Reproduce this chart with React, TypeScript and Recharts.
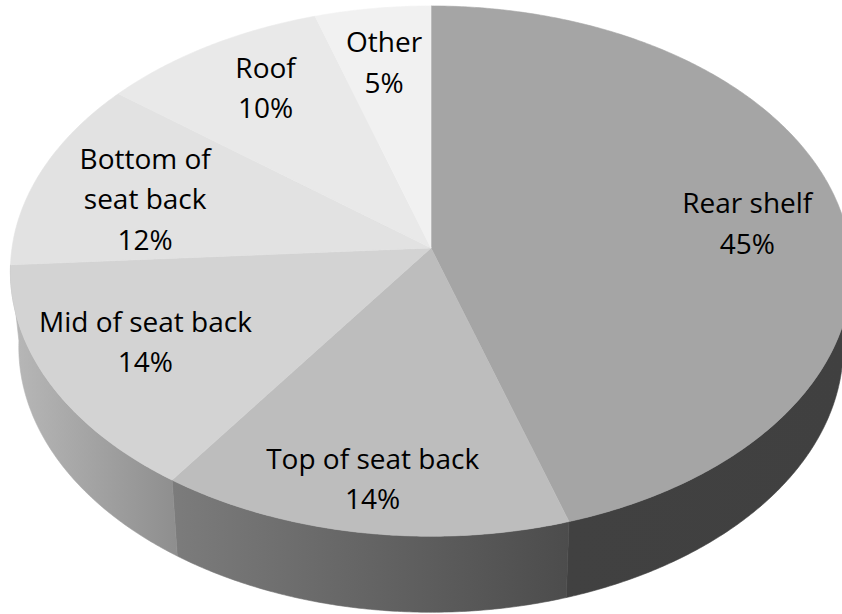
import React from "react";
import { PieChart, Pie } from "recharts";

const names = ["Rear shelf", "Top of seat back", "Mid of seat back", "Bottom of seat back", "Roof", "Other"];
const shares = [45, 14, 14, 12, 10, 5];
const labelLines = [["Rear shelf"], ["Top of seat back"], ["Mid of seat back"], ["Bottom of", "seat back"], ["Roof"], ["Other"]];
const topColors = ["#a5a5a5", "#bdbdbd", "#d3d3d3", "#e2e2e2", "#e9e9e9", "#f1f1f1"];
const wallColors = [
  ["#414141", "#404040"],
  ["#7c7c7c", "#4c4c4c"],
  ["#b8b8b8", "#8e8e8e"],
];
const labelReach = [0.76, 0.82, 0.77, 0.7, 0.75, 0.78];
const labelNudge = [[5, 6], [-12, 0], [-3, -19], [-6, -4], [10, -9], [1, 4]];

const rows = names.map((name, i) => ({ name, value: shares[i] }));

const WIDTH = 842;
const HEIGHT = 614;
const FONT = "'Open Sans', sans-serif";
const FONT_SIZE = 28;
const LINE_HEIGHT = 40.5;

// The disc is tilted: a circle is taken through a projective map so the near edge looks larger.
const FLATTEN = 0.628;
const TILT = -0.0871;
const WALL_DROP = 76;
const WALL_SHRINK = 0.98;
// Clockwise-from-noon angle where the extruded side comes into view.
const WALL_FROM = 85;
// Highest wall-bearing slice ends where the side passes behind the disc.
const WALL_TO = 268;
// Slice edges lean clockwise on the left of the disc, most strongly near this bearing.
const LEAN_DEG = 3.6;
const LEAN_CENTER = 254;

const lean = (clockDeg: number) => {
  const shape = (deg: number) => ((1 + Math.cos(((deg - LEAN_CENTER) * Math.PI) / 180)) / 2) ** 2;
  const base = shape(0);
  return clockDeg + (LEAN_DEG * (shape(clockDeg) - base)) / (1 - base);
};

const project = (cx: number, cy: number, radius: number, clockDeg: number, reach = 1) => {
  const t = (clockDeg * Math.PI) / 180;
  const u = reach * Math.sin(t);
  const v = -reach * Math.cos(t);
  const w = 1 + TILT * v;
  return [cx + (radius * u) / w, cy + (radius * FLATTEN * v) / w];
};

const arcPoints = (cx: number, cy: number, radius: number, from: number, to: number) => {
  const steps = Math.max(2, Math.ceil((to - from) * 2));
  const pts: number[][] = [];
  for (let s = 0; s <= steps; s++) pts.push(project(cx, cy, radius, from + ((to - from) * s) / steps));
  return pts;
};

const toPath = (pts: number[][]) => "M" + pts.map((p) => `${p[0].toFixed(2)},${p[1].toFixed(2)}`).join("L") + "Z";

const Slice = (props: any) => {
  const { cx, cy, outerRadius, startAngle, endAngle, name } = props;
  const index = names.indexOf(name);
  const from = lean(90 - startAngle);
  const to = lean(90 - endAngle);
  const wallStart = Math.max(from, WALL_FROM);
  const wallEnd = Math.min(to, WALL_TO);
  const hasWall = wallEnd > wallStart && index < wallColors.length;
  const rim = arcPoints(cx, cy, outerRadius, from, to);
  let wall = "";
  if (hasWall) {
    const upper = arcPoints(cx, cy, outerRadius, wallStart, wallEnd);
    const lower = upper.map((p) => [cx + (p[0] - cx) * WALL_SHRINK, p[1] + WALL_DROP]).reverse();
    wall = toPath([...upper, ...lower]);
  }
  const gradientId = `wall-${index}`;
  return (
    <g>
      {hasWall && (
        <>
          <defs>
            <linearGradient id={gradientId} x1="1" y1="0" x2="0" y2="0">
              <stop offset="0" stopColor={wallColors[index][1]} />
              <stop offset="1" stopColor={wallColors[index][0]} />
            </linearGradient>
          </defs>
          <path d={wall} fill={`url(#${gradientId})`} stroke={`url(#${gradientId})`} strokeWidth={0.6} />
        </>
      )}
      <path d={toPath([[cx, cy], ...rim])} fill={topColors[index]} stroke={topColors[index]} strokeWidth={0.6} />
    </g>
  );
};

const SliceLabel = (props: any) => {
  const { cx, cy, outerRadius, midAngle, name, value } = props;
  const index = names.indexOf(name);
  const [px, py] = project(cx, cy, outerRadius, 90 - midAngle, labelReach[index]);
  const x = px + labelNudge[index][0];
  const lines = [...labelLines[index], `${value}%`];
  const firstBaseline = py + labelNudge[index][1] - (lines.length * LINE_HEIGHT) / 2 + LINE_HEIGHT * 0.76;
  return (
    <text textAnchor="middle" fontFamily={FONT} fontSize={FONT_SIZE} fill="#000000">
      {lines.map((line, i) => (
        <tspan key={line} x={x} y={firstBaseline + i * LINE_HEIGHT}>
          {line}
        </tspan>
      ))}
    </text>
  );
};

export default function App() {
  return (
    <div style={{ position: "absolute", left: 0, top: 0, width: WIDTH, height: HEIGHT, background: "#fff", overflow: "hidden" }}>
      <PieChart width={WIDTH} height={HEIGHT} margin={{ top: 0, right: 0, bottom: 0, left: 0 }}>
        <Pie
          data={rows}
          dataKey="value"
          nameKey="name"
          cx={431}
          cy={248}
          innerRadius={0}
          outerRadius={419}
          startAngle={90}
          endAngle={-270}
          stroke="none"
          shape={Slice}
          label={SliceLabel}
          labelLine={false}
          isAnimationActive={false}
        />
      </PieChart>
    </div>
  );
}
